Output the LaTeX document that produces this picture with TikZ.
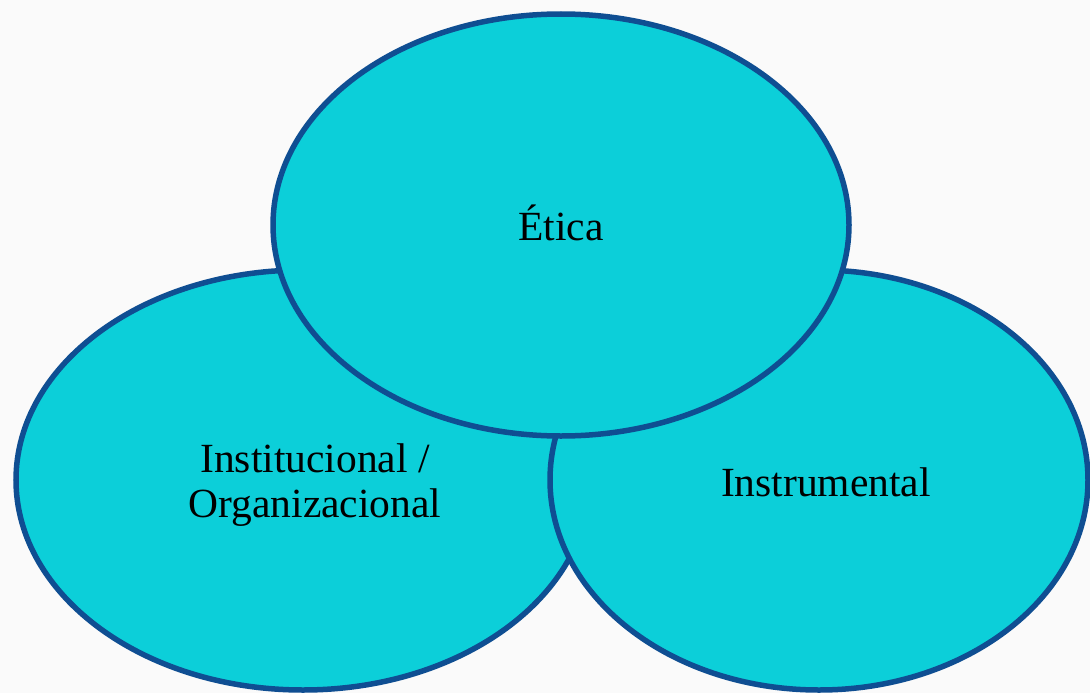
\documentclass[tikz,border=0pt]{standalone}
\usepackage{fontspec}
\setmainfont{Liberation Serif}
\usetikzlibrary{shapes.geometric}
\definecolor{cfill}{HTML}{0CCFD9}
\definecolor{cline}{HTML}{0F4E92}
\definecolor{bg}{HTML}{FAFAFA}
\begin{document}
\begin{tikzpicture}[x=1pt,y=-1pt,
  circ/.style={ellipse,draw=cline,fill=cfill,line width=5.5pt,inner sep=0pt},
  lbl/.style={font=\fontsize{41.5}{45}\selectfont,text=black,align=center,inner sep=0pt}]
\fill[bg] (0,0) rectangle (1090,693);
\useasboundingbox (0,0) rectangle (1090,693);
\node[circ,minimum width=574pt,minimum height=420pt] (left) at (303,480) {};
\node[circ,minimum width=538pt,minimum height=420pt] (right) at (819,480) {};
\node[circ,minimum width=576pt,minimum height=422pt] (top) at (561,225) {};
\node[lbl] (tl) at (561,223) {Ética};
\node[lbl] (ll) at (315,485) {Institucional /\\Organizacional};
\node[lbl] (rl) at (826,482) {Instrumental};
\end{tikzpicture}
\end{document}
